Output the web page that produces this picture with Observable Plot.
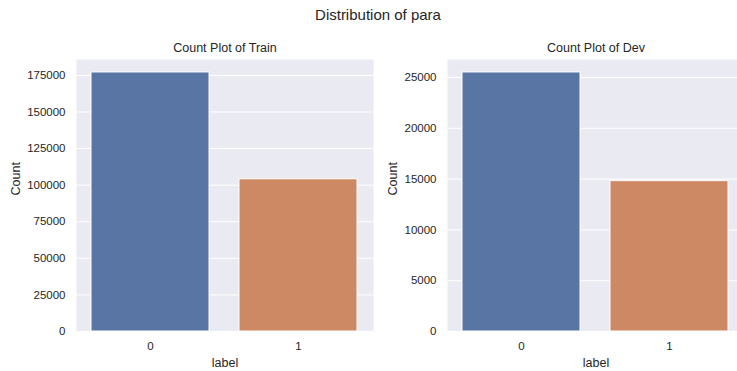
<!DOCTYPE html>
<html>
<head>
<meta charset="utf-8">
<script src="https://cdn.jsdelivr.net/npm/d3@7"></script>
<script src="https://cdn.jsdelivr.net/npm/@observablehq/plot@0.6"></script>
<style>
  html, body { margin: 0; padding: 0; background: #ffffff; }
  #wrap { position: relative; width: 737px; height: 371px; overflow: hidden; background: #ffffff;
          font-family: "Liberation Sans", Arial, sans-serif; color: #262626; }
  #title { position: absolute; left: 0; top: 7px; width: 756px; text-align: center;
           font-size: 15px; line-height: 16px; }
  .panel { position: absolute; top: 0; height: 371px; }
  .panel svg { max-width: none !important; display: block; }
</style>
</head>
<body>
<div id="wrap">
  <div id="title">Distribution of para</div>
  <div id="p1" class="panel" style="left:0px; width:380px"></div>
  <div id="p2" class="panel" style="left:370px; width:374px"></div>
</div>
<script>
const categories = ["0", "1"];
const trainCounts = [177000, 104000];
const devCounts = [25500, 14800];
const trainTicks = [0, 25000, 50000, 75000, 100000, 125000, 150000, 175000];
const devTicks = [0, 5000, 10000, 15000, 20000, 25000];
const barColors = ["#5875a4", "#cc8963"];

function panel({counts, ticks, title, width, marginLeft, marginRight, countDx}) {
  const data = categories.map((c, i) => ({label: c, count: counts[i]}));
  return Plot.plot({
    width, height: 371,
    marginLeft, marginRight, marginTop: 59, marginBottom: 40,
    style: {background: "transparent", fontFamily: "'Liberation Sans', Arial, sans-serif", fontSize: "11.5px", color: "#262626", overflow: "visible", maxWidth: "none"},
    x: {domain: categories, paddingInner: 0.2, paddingOuter: 0.1, axis: null},
    y: {domain: [0, d3.max(counts) * 1.05], axis: null},
    color: {domain: categories, range: barColors},
    marks: [
      Plot.frame({fill: "#eaeaf2", stroke: null}),
      Plot.gridY(ticks, {stroke: "#ffffff", strokeOpacity: 1, strokeWidth: 1}),
      Plot.barY(data, {x: "label", y: "count", fill: "label", stroke: "#ffffff", strokeWidth: 1}),
      Plot.axisY(ticks, {tickSize: 0, tickPadding: 11, label: null, tickFormat: d => String(d)}),
      Plot.axisX({tickSize: 0, tickPadding: 10, label: null}),
      Plot.text([title], {text: d => d, frameAnchor: "top", dy: -12, fontSize: 12.5, lineAnchor: "middle"}),
      Plot.text(["label"], {text: d => d, frameAnchor: "bottom", dy: 31, fontSize: 12.5, lineAnchor: "middle"}),
      Plot.text(["Count"], {text: d => d, frameAnchor: "left", dx: -countDx, rotate: -90, fontSize: 12.5, lineAnchor: "middle"})
    ]
  });
}

document.getElementById("p1").append(panel({
  counts: trainCounts, ticks: trainTicks, title: "Count Plot of Train",
  width: 380, marginLeft: 76, marginRight: 7, countDx: 61
}));
document.getElementById("p2").append(panel({
  counts: devCounts, ticks: devTicks, title: "Count Plot of Dev",
  width: 374, marginLeft: 77, marginRight: 0, countDx: 55
}));
</script>
</body>
</html>
